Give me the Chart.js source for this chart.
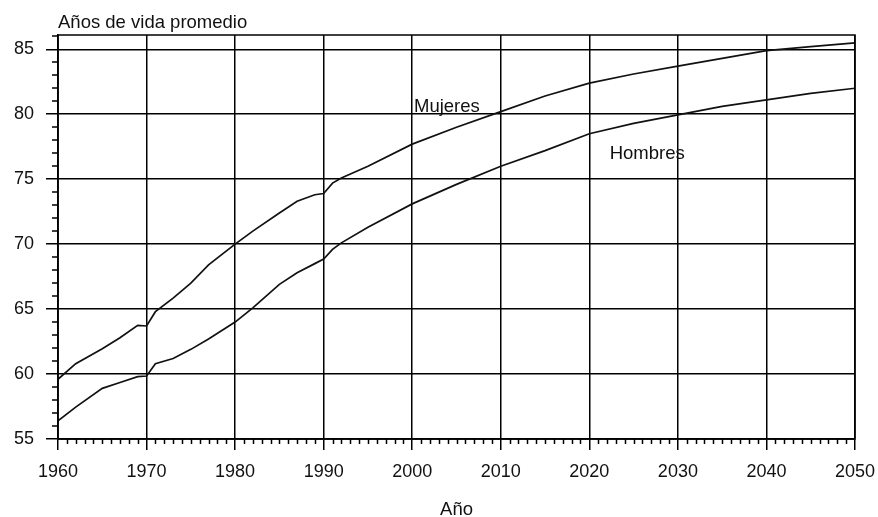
<!DOCTYPE html>
<html>
<head>
<meta charset="utf-8">
<script src="https://cdn.jsdelivr.net/npm/chart.js@4.4.1/dist/chart.umd.min.js"></script>
<style>
  body { margin: 0; background: #fff; }
  #wrap { width: 878px; height: 517px; position: relative; }
</style>
</head>
<body>
<div id="wrap"><canvas id="lifeChart"></canvas></div>
<script>
// values
const years = [1960, 1962, 1965, 1967, 1969, 1970, 1971, 1973, 1975, 1977,
               1980, 1982, 1985, 1987, 1989, 1990, 1991, 1992, 1995, 2000,
               2005, 2010, 2015, 2020, 2025, 2030, 2035, 2040, 2045, 2050];
const mujeres = [59.6, 60.8, 61.95, 62.8, 63.75, 63.7, 64.8, 65.85, 67.0, 68.4,
                 70.0, 71.0, 72.4, 73.3, 73.8, 73.9, 74.7, 75.1, 76.0, 77.7,
                 79.0, 80.2, 81.4, 82.4, 83.1, 83.7, 84.3, 84.9, 85.2, 85.5];
const hombres = [56.4, 57.45, 58.9, 59.35, 59.8, 59.85, 60.8, 61.2, 61.9, 62.7,
                 64.0, 65.1, 66.9, 67.8, 68.5, 68.85, 69.6, 70.1, 71.3, 73.1,
                 74.6, 76.0, 77.2, 78.5, 79.3, 79.95, 80.6, 81.1, 81.6, 82.0];

const xTickValues = [1960, 1970, 1980, 1990, 2000, 2010, 2020, 2030, 2040, 2050];
const yTickValues = [55, 60, 65, 70, 75, 80, 85];

const chartTitle = 'Años de vida promedio';
const xTitle = 'Año';
// series labels written inside the plot: [text, year, value]
const seriesLabels = [['Mujeres', 2000.2, 80.2], ['Hombres', 2022.3, 76.55]];

const FONT = '"Liberation Sans", Arial, sans-serif';

// minor ticks, outer box and the texts
const decorPlugin = {
  id: 'decor',
  afterDraw(chart) {
    const ctx = chart.ctx;
    const xs = chart.scales.x;
    const ys = chart.scales.y;
    const area = chart.chartArea;
    ctx.save();
    ctx.strokeStyle = '#000';
    ctx.lineWidth = 1.5;
    ctx.beginPath();
    for (let yr = Math.ceil(xs.min); yr <= xs.max; yr++) {
      if (yr % 10 === 0) continue;
      const px = Math.round(xs.getPixelForValue(yr)) + 0.5;
      ctx.moveTo(px, area.bottom);
      ctx.lineTo(px, area.bottom + 5);
    }
    for (let v = Math.ceil(ys.min); v <= ys.max; v++) {
      if (v % 5 === 0) continue;
      const py = Math.round(ys.getPixelForValue(v));
      ctx.moveTo(area.left - 6, py);
      ctx.lineTo(area.left, py);
    }
    ctx.stroke();
    ctx.strokeRect(area.left, area.top, area.right - area.left, area.bottom - area.top);

    ctx.fillStyle = '#111';
    ctx.font = '18.5px ' + FONT;
    ctx.textBaseline = 'alphabetic';
    ctx.textAlign = 'left';
    ctx.fillText(chartTitle, area.left, 27.5);
    seriesLabels.forEach(function(l) {
      ctx.fillText(l[0], xs.getPixelForValue(l[1]), ys.getPixelForValue(l[2]));
    });
    ctx.textAlign = 'center';
    ctx.fillText(xTitle, (area.left + area.right) / 2, 515);
    ctx.restore();
  }
};

function toPoints(vals) {
  return years.map((yr, i) => ({ x: yr, y: vals[i] }));
}

const lineStyle = {
  borderColor: '#111',
  borderWidth: 1.7,
  pointRadius: 0,
  fill: false,
  tension: 0
};

new Chart(document.getElementById('lifeChart'), {
  type: 'line',
  data: {
    datasets: [
      Object.assign({ label: 'Mujeres', data: toPoints(mujeres) }, lineStyle),
      Object.assign({ label: 'Hombres', data: toPoints(hombres) }, lineStyle)
    ]
  },
  options: {
    responsive: true,
    maintainAspectRatio: false,
    animation: false,
    layout: { padding: { top: 35, right: 23, bottom: 0, left: 0 } },
    plugins: {
      legend: { display: false },
      tooltip: { enabled: false }
    },
    scales: {
      x: {
        type: 'linear',
        min: 1960,
        max: 2050,
        afterBuildTicks: s => { s.ticks = xTickValues.map(v => ({ value: v })); },
        afterFit: s => { s.height = 78; s.paddingLeft = 0; s.paddingRight = 0; },
        ticks: {
          color: '#111',
          font: { family: FONT, size: 18 },
          padding: 11,
          maxRotation: 0,
          callback: v => String(v)
        },
        grid: { color: '#000', lineWidth: 1.5, tickLength: 11 },
        border: { color: '#000', width: 1.5 }
      },
      y: {
        min: 55,
        max: 86.1,
        afterBuildTicks: s => { s.ticks = yTickValues.map(v => ({ value: v })); },
        afterFit: s => { s.width = 58; s.paddingTop = 0; s.paddingBottom = 0; },
        ticks: {
          color: '#111',
          font: { family: FONT, size: 18 },
          padding: 12
        },
        grid: { color: '#000', lineWidth: 1.5, tickLength: 12 },
        border: { color: '#000', width: 1.5 }
      }
    }
  },
  plugins: [decorPlugin]
});
</script>
</body>
</html>
